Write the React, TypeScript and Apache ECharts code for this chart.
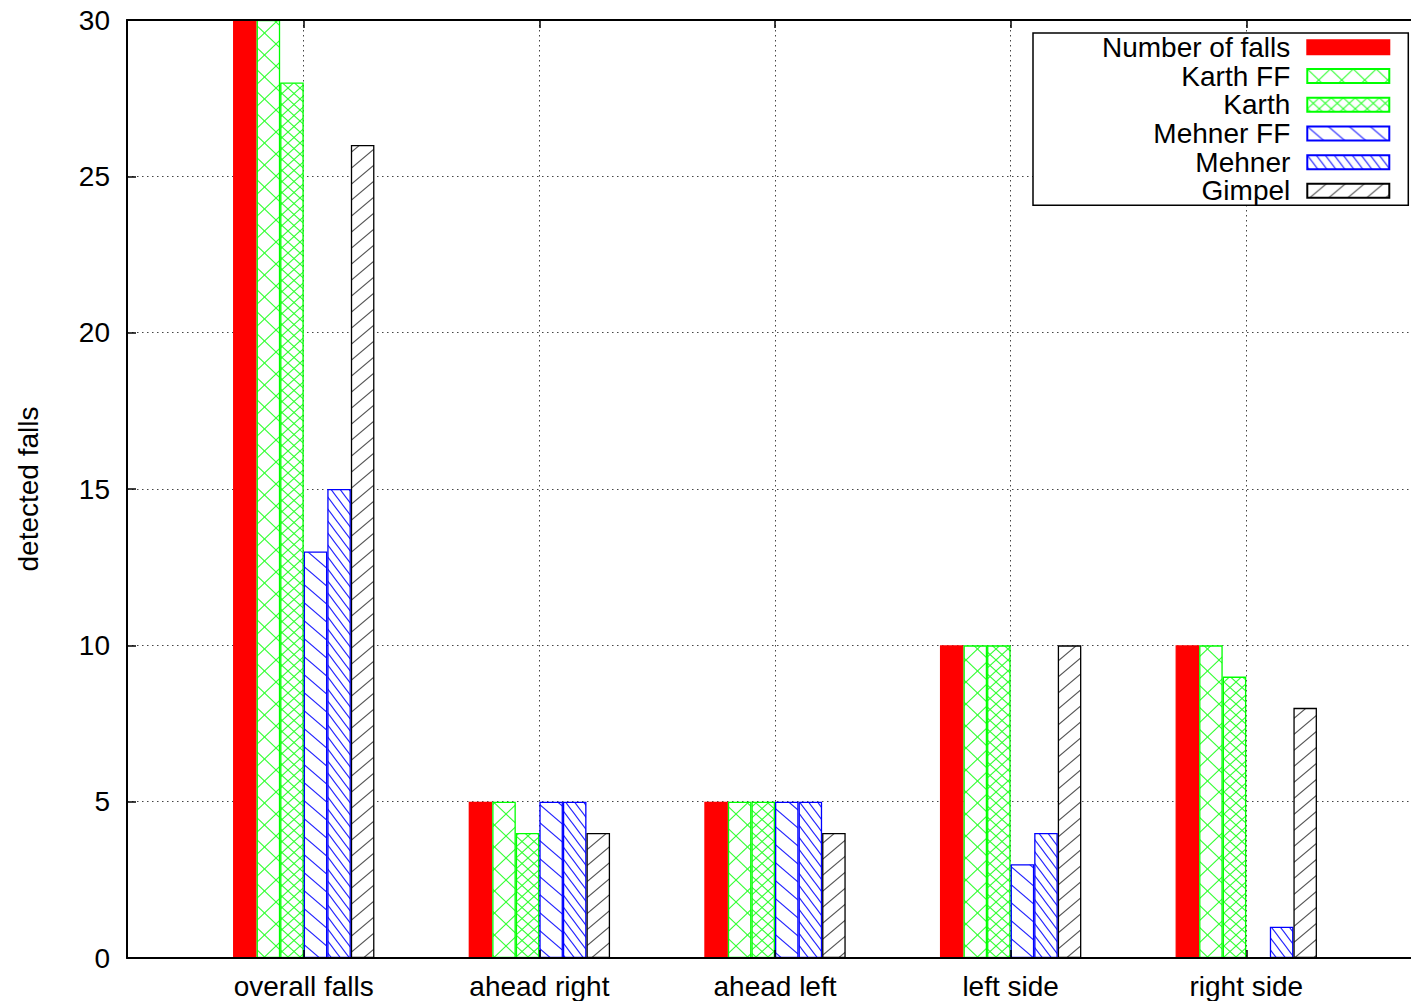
import React, { useEffect, useRef } from "react";
import * as echarts from "echarts";

const categories = ["overall falls", "ahead right", "ahead left", "left side", "right side"];
const seriesNames = ["Number of falls", "Karth FF", "Karth", "Mehner FF", "Mehner", "Gimpel"];
const numberOfFalls = [30, 5, 5, 10, 10];
const karthFF = [30, 5, 5, 10, 10];
const karth = [28, 4, 5, 10, 9];
const mehnerFF = [13, 5, 5, 3, 0];
const mehner = [15, 5, 5, 4, 1];
const gimpel = [26, 4, 4, 10, 8];
const yTicks = [0, 5, 10, 15, 20, 25, 30];

const FONT = "Liberation Sans, Arial, Helvetica, sans-serif";

function makePattern(w: number, h: number, dirs: string[], color: string, lw: number) {
  const c = document.createElement("canvas");
  c.width = w;
  c.height = h;
  const ctx = c.getContext("2d")!;
  ctx.fillStyle = "#ffffff";
  ctx.fillRect(0, 0, w, h);
  ctx.strokeStyle = color;
  ctx.lineWidth = lw;
  for (const d of dirs) {
    for (const off of [-w, 0, w]) {
      ctx.beginPath();
      if (d === "\\") {
        ctx.moveTo(off - w, -h);
        ctx.lineTo(off + 2 * w, 2 * h);
      } else {
        ctx.moveTo(off - w, 2 * h);
        ctx.lineTo(off + 2 * w, -h);
      }
      ctx.stroke();
    }
  }
  return { image: c, repeat: "repeat" };
}

export default function App() {
  const ref = useRef<HTMLDivElement>(null);
  useEffect(() => {
    if (!ref.current) return;
    const chart = echarts.init(ref.current, undefined, { renderer: "svg" });
    const values = [numberOfFalls, karthFF, karth, mehnerFF, mehner, gimpel];
    const fills: any[] = [
      "#ff0000",
      makePattern(23, 22, ["\\", "/"], "#33ff33", 1.1),
      makePattern(12, 11, ["\\", "/"], "#33ff33", 1.1),
      makePattern(21, 18, ["\\"], "#2222ff", 1.1),
      makePattern(9, 12, ["\\"], "#2222ff", 1.1),
      makePattern(19, 16, ["/"], "#555555", 1.1),
    ];
    const borders = ["#ff0000", "#00ff00", "#00ff00", "#0000ff", "#0000ff", "#000000"];
    const catIdx = categories.map((_, i) => i);
    const dotted = { type: [1.5, 3.5], color: "#444", width: 1 };

    chart.setOption({
      animation: false,
      backgroundColor: "#ffffff",
      grid: { left: 127, top: 20, bottom: 43, right: 0, containLabel: false },
      legend: {
        orient: "vertical",
        left: 1033,
        top: 33,
        align: "right",
        icon: "rect",
        itemWidth: 82,
        itemHeight: 14,
        itemGap: 0,
        padding: [0, 18, 0, 69],
        borderColor: "#000",
        borderWidth: 1.5,
        backgroundColor: "#ffffff",
        selectedMode: false,
        z: 10,
        textStyle: {
          fontSize: 28,
          color: "#000",
          fontFamily: FONT,
          lineHeight: 28.7,
          padding: [0, 12, 0, 0],
        },
        data: seriesNames,
      },
      xAxis: [
        {
          type: "value",
          min: -0.75,
          max: 4.75,
          position: "bottom",
          z: 5,
          axisLine: { show: true, onZero: false, lineStyle: { color: "#000", width: 2 } },
          axisTick: {
            show: true,
            inside: true,
            length: 8,
            customValues: catIdx,
            lineStyle: { color: "#000", width: 1.5 },
          },
          axisLabel: {
            customValues: catIdx,
            formatter: (v: number) => categories[Math.round(v)] ?? "",
            fontSize: 28,
            color: "#000",
            fontFamily: FONT,
            margin: 14,
          },
          splitLine: { show: false },
        },
        {
          type: "value",
          min: -0.75,
          max: 4.75,
          position: "top",
          z: 5,
          axisLine: { show: true, onZero: false, lineStyle: { color: "#000", width: 2 } },
          axisTick: {
            show: true,
            inside: true,
            length: 8,
            customValues: catIdx,
            lineStyle: { color: "#000", width: 1.5 },
          },
          axisLabel: { show: false },
          splitLine: { show: false },
        },
        {
          type: "value",
          min: -0.75,
          max: 4.75,
          position: "bottom",
          z: 0,
          axisLine: { show: false, onZero: false },
          axisTick: { show: false, customValues: catIdx },
          axisLabel: { show: false, customValues: catIdx },
          splitLine: { show: true, lineStyle: dotted },
        },
      ],
      yAxis: {
        type: "value",
        min: 0,
        max: 30,
        interval: 5,
        name: "detected falls",
        nameLocation: "middle",
        nameGap: 85,
        nameTextStyle: { fontSize: 28, color: "#000", fontFamily: FONT },
        axisLine: { show: true, onZero: false, lineStyle: { color: "#000", width: 2 } },
        axisTick: { show: true, inside: true, length: 9, customValues: yTicks, lineStyle: { color: "#000", width: 1.5 } },
        axisLabel: { fontSize: 28, color: "#000", fontFamily: FONT, margin: 17, customValues: yTicks },
        splitLine: { show: true, lineStyle: dotted },
      },
      series: seriesNames.map((name, si) => ({
        type: "bar",
        name,
        xAxisIndex: 0,
        yAxisIndex: 0,
        barWidth: "10%",
        barGap: "0%",
        data: values[si].map((v, i) => [i, v]),
        itemStyle: { color: fills[si], borderColor: borders[si], borderWidth: 1.3 },
        emphasis: { disabled: true },
      })),
    });
    return () => chart.dispose();
  }, []);
  return (
    <div style={{ position: "fixed", left: 0, top: 0, width: 1411, height: 1001, overflow: "hidden", background: "#fff" }}>
      <div ref={ref} style={{ width: 1423, height: 1001 }} />
    </div>
  );
}
